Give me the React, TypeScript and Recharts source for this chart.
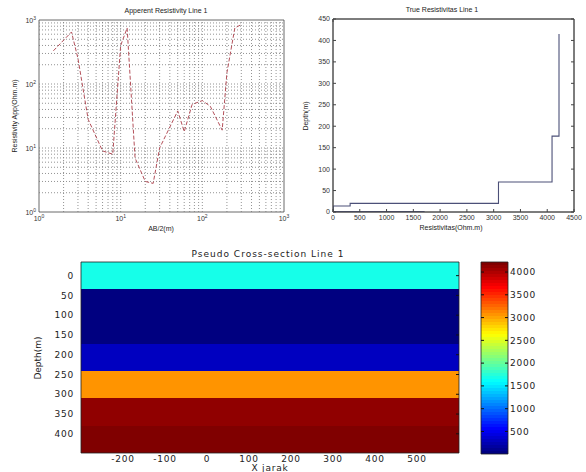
import React from "react";
import {
  LineChart,
  ComposedChart,
  Line,
  XAxis,
  YAxis,
  ReferenceLine,
  ReferenceArea,
} from "recharts";

// apparent resistivity sounding curve (AB/2 vs rho_a), log-log
const abHalf = [1.5, 2.5, 3, 4, 6, 8, 10, 12, 15, 20, 25, 30, 50, 60, 75, 100, 125, 175, 200, 250, 300];
const rhoApp = [330, 650, 250, 28, 9, 8, 400, 750, 7, 3, 2.8, 10, 38, 18, 48, 55, 45, 19, 150, 750, 850];

// layered model (true resistivity)
const layerRho = [1700, 5, 320, 3090, 4090, 4220];
const layerTop = [0, 1, 14, 20, 70, 177];
const layerBottom = [1, 14, 20, 70, 177, 415];

// pseudo cross-section rows
const rowDepth = [0, 69, 138, 207, 276, 345, 414];
const rowRho = [1700, 5, 5, 320, 3090, 4090, 4220];
const rowHalf = 34.5;
const sectionX = [-300, 600];

const decades = [1, 10, 100, 1000];
const rhoTicks = [0, 500, 1000, 1500, 2000, 2500, 3000, 3500, 4000, 4500];
const depthTicks = [0, 50, 100, 150, 200, 250, 300, 350, 400, 450];
const sectionXTicks = [-200, -100, 0, 100, 200, 300, 400, 500];
const sectionDepthTicks = [0, 50, 100, 150, 200, 250, 300, 350, 400];
const cbarTicks = [500, 1000, 1500, 2000, 2500, 3000, 3500, 4000];
const cMin = 5;
const cMax = 4220;

const apparentData = abHalf.map((ab, i) => ({ ab, rho: rhoApp[i] }));
const stepData = layerRho.flatMap((r, i) => [
  { rho: r, depth: layerTop[i] },
  { rho: r, depth: layerBottom[i] },
]);
const gridVals = [1, 10, 100].flatMap((d) =>
  [1, 2, 3, 4, 5, 6, 7, 8, 9].map((m) => m * d)
).filter((v) => v > 1);

// matlab jet
function jet(t: number) {
  const c = (v: number) => Math.round(255 * Math.max(0, Math.min(1, v)));
  const r = c(Math.min(4 * t - 1.5, -4 * t + 4.5));
  const g = c(Math.min(4 * t - 0.5, -4 * t + 3.5));
  const b = c(Math.min(4 * t + 0.5, -4 * t + 2.5));
  return `rgb(${r},${g},${b})`;
}
const colorOf = (v: number) => {
  const idx = Math.min(63, Math.floor(((v - cMin) / (cMax - cMin)) * 64));
  return jet(idx / 63);
};
const cbarSteps = Array.from({ length: 64 }, (_, i) => i);

const SANS = "'Liberation Sans', Arial, sans-serif";
const WIDE = "'DejaVu Sans', sans-serif";

const PowTickX = ({ x, y, payload }: any) => (
  <text x={x} y={y + 9} textAnchor="middle" fontSize={7} fill="#333" fontFamily={SANS}>
    10
    <tspan dy={-3} fontSize={5}>
      {Math.round(Math.log10(payload.value))}
    </tspan>
  </text>
);
const PowTickY = ({ x, y, payload }: any) => (
  <text x={x - 3} y={y + 3} textAnchor="end" fontSize={7} fill="#333" fontFamily={SANS}>
    10
    <tspan dy={-3} fontSize={5}>
      {Math.round(Math.log10(payload.value))}
    </tspan>
  </text>
);

const noLabel = () => <g />;

export default function App() {
  return (
    <div
      style={{
        position: "absolute",
        left: 0,
        top: 0,
        width: 586,
        height: 472,
        background: "#fff",
        overflow: "hidden",
      }}
    >
      {/* apparent resistivity */}
      <div style={{ position: "absolute", left: 0, top: 0 }}>
        <LineChart width={300} height={240} data={apparentData} margin={{ top: 20, right: 16, bottom: 8, left: 0 }}>
          <XAxis
            dataKey="ab"
            type="number"
            scale="log"
            domain={[1, 1000]}
            ticks={decades}
            allowDataOverflow
            height={20}
            tickSize={0}
            tickMargin={0}
            axisLine={false}
            tick={PowTickX}
            interval={0}
          />
          <YAxis
            type="number"
            scale="log"
            domain={[1, 1000]}
            ticks={decades}
            allowDataOverflow
            width={39}
            tickSize={0}
            tickMargin={0}
            axisLine={false}
            tick={PowTickY}
            interval={0}
          />
          {gridVals.map((v) => (
            <ReferenceLine key={"gx" + v} x={v} stroke="#777" strokeWidth={0.8} strokeDasharray="1 2" />
          ))}
          {gridVals.map((v) => (
            <ReferenceLine key={"gy" + v} y={v} stroke="#777" strokeWidth={0.8} strokeDasharray="1 2" />
          ))}
          <ReferenceArea x1={1} x2={1000} y1={1} y2={1000} fill="none" stroke="#444" strokeWidth={0.8} />
          <Line
            dataKey="rho"
            type="linear"
            stroke="#b4505a"
            strokeWidth={1}
            strokeDasharray="4 2"
            dot={false}
            isAnimationActive={false}
          />
        </LineChart>
      </div>

      {/* true resistivity */}
      <div style={{ position: "absolute", left: 290, top: 0 }}>
        <LineChart width={296} height={240} data={stepData} margin={{ top: 18, right: 11, bottom: 8, left: 0 }}>
          <XAxis
            dataKey="rho"
            type="number"
            domain={[0, 4500]}
            ticks={rhoTicks}
            allowDataOverflow
            interval={0}
            height={20}
            tickSize={-3}
            tickMargin={6}
            axisLine={{ stroke: "#444" }}
            tickLine={{ stroke: "#444" }}
            tick={{ fontSize: 7, fill: "#333", fontFamily: SANS }}
          />
          <XAxis
            xAxisId="top"
            orientation="top"
            type="number"
            domain={[0, 4500]}
            ticks={rhoTicks}
            allowDataOverflow
            interval={0}
            height={1}
            tickSize={-3}
            axisLine={{ stroke: "#444" }}
            tickLine={{ stroke: "#444" }}
            tick={noLabel}
          />
          <YAxis
            dataKey="depth"
            type="number"
            domain={[0, 450]}
            ticks={depthTicks}
            allowDataOverflow
            interval={0}
            width={43}
            tickSize={-3}
            tickMargin={6}
            axisLine={{ stroke: "#444" }}
            tickLine={{ stroke: "#444" }}
            tick={{ fontSize: 7, fill: "#333", fontFamily: SANS }}
          />
          <YAxis
            yAxisId="right"
            orientation="right"
            type="number"
            domain={[0, 450]}
            ticks={depthTicks}
            allowDataOverflow
            interval={0}
            width={1}
            tickSize={-3}
            axisLine={{ stroke: "#444" }}
            tickLine={{ stroke: "#444" }}
            tick={noLabel}
          />
          <ReferenceArea x1={0} x2={4500} y1={0} y2={450} fill="none" stroke="#444" strokeWidth={0.8} />
          <Line
            dataKey="depth"
            type="linear"
            stroke="#4c5078"
            strokeWidth={1.1}
            dot={false}
            isAnimationActive={false}
          />
        </LineChart>
      </div>

      {/* pseudo cross-section */}
      <div style={{ position: "absolute", left: 0, top: 240 }}>
        <ComposedChart width={586} height={232} margin={{ top: 21, right: 126, bottom: 0, left: 0 }}>
          <XAxis
            type="number"
            dataKey="x"
            domain={sectionX}
            ticks={sectionXTicks}
            allowDataOverflow
            interval={0}
            height={19}
            tickSize={0}
            tickMargin={3}
            axisLine={false}
            tick={{ fontSize: 9, fill: "#222", fontFamily: WIDE, letterSpacing: 0.8 }}
          />
          <XAxis
            xAxisId="top"
            orientation="top"
            type="number"
            domain={sectionX}
            ticks={sectionXTicks}
            allowDataOverflow
            interval={0}
            height={1}
            tickSize={-3}
            axisLine={false}
            tickLine={{ stroke: "#111" }}
            tick={noLabel}
          />
          <YAxis
            type="number"
            domain={[rowDepth[0] - rowHalf, rowDepth[rowDepth.length - 1] + rowHalf]}
            reversed
            ticks={sectionDepthTicks}
            allowDataOverflow
            interval={0}
            width={81}
            tickSize={0}
            tickMargin={7}
            axisLine={false}
            tick={{ fontSize: 9, fill: "#222", fontFamily: WIDE, letterSpacing: 0.8 }}
          />
          <YAxis
            yAxisId="right"
            orientation="right"
            type="number"
            domain={[rowDepth[0] - rowHalf, rowDepth[rowDepth.length - 1] + rowHalf]}
            reversed
            ticks={sectionDepthTicks}
            allowDataOverflow
            interval={0}
            width={1}
            tickSize={-3}
            axisLine={false}
            tickLine={{ stroke: "#111" }}
            tick={noLabel}
          />
          {rowDepth.map((d, i) => (
            <ReferenceArea
              key={"row" + i}
              x1={sectionX[0]}
              x2={sectionX[1]}
              y1={d - rowHalf}
              y2={d + rowHalf}
              fill={colorOf(rowRho[i])}
              fillOpacity={1}
              stroke="none"
              shapeRendering="crispEdges"
            />
          ))}
          <ReferenceArea
            x1={sectionX[0]}
            x2={sectionX[1]}
            y1={rowDepth[0] - rowHalf}
            y2={rowDepth[rowDepth.length - 1] + rowHalf}
            fill="none"
            stroke="#222"
            strokeWidth={0.8}
          />
        </ComposedChart>
      </div>

      {/* colorbar */}
      <div style={{ position: "absolute", left: 470, top: 240 }}>
        <ComposedChart width={116} height={232} margin={{ top: 22, right: 18, bottom: 18, left: 10 }}>
          <XAxis type="number" dataKey="x" domain={[0, 1]} allowDataOverflow height={0} tick={false} axisLine={false} tickLine={false} />
          <YAxis
            orientation="right"
            type="number"
            domain={[cMin, cMax]}
            ticks={cbarTicks}
            allowDataOverflow
            interval={0}
            width={60}
            tickSize={-3}
            tickMargin={5}
            axisLine={false}
            tickLine={{ stroke: "#111" }}
            tick={{ fontSize: 9, fill: "#222", fontFamily: WIDE, letterSpacing: 0.8 }}
          />
          <YAxis
            yAxisId="left"
            orientation="left"
            type="number"
            domain={[cMin, cMax]}
            ticks={cbarTicks}
            allowDataOverflow
            interval={0}
            width={1}
            tickSize={-3}
            axisLine={false}
            tickLine={{ stroke: "#111" }}
            tick={noLabel}
          />
          {cbarSteps.map((i) => (
            <ReferenceArea
              key={"cb" + i}
              x1={0}
              x2={1}
              y1={cMin + (i * (cMax - cMin)) / 64}
              y2={cMin + ((i + 1) * (cMax - cMin)) / 64}
              fill={jet(i / 63)}
              fillOpacity={1}
              stroke="none"
              shapeRendering="crispEdges"
            />
          ))}
          <ReferenceArea x1={0} x2={1} y1={cMin} y2={cMax} fill="none" stroke="#222" strokeWidth={0.8} />
        </ComposedChart>
      </div>

      {/* titles and axis labels */}
      <svg width={586} height={472} style={{ position: "absolute", left: 0, top: 0, pointerEvents: "none" }}>
        <text x={166} y={13} textAnchor="middle" fontSize={7} fill="#222" fontFamily={SANS}>
          Apperent Resistivity Line 1
        </text>
        <text x={161} y={231} textAnchor="middle" fontSize={7} fill="#222" fontFamily={SANS}>
          AB/2(m)
        </text>
        <text
          x={17}
          y={116}
          textAnchor="middle"
          fontSize={7}
          fill="#222"
          fontFamily={SANS}
          transform="rotate(-90 17 116)"
        >
          Resistivity App(Ohm.m)
        </text>
        <text x={442} y={12} textAnchor="middle" fontSize={7} fill="#222" fontFamily={SANS}>
          True Resistivitas Line 1
        </text>
        <text x={451} y={230} textAnchor="middle" fontSize={7} fill="#222" fontFamily={SANS}>
          Resistivitas(Ohm.m)
        </text>
        <text
          x={308}
          y={116}
          textAnchor="middle"
          fontSize={7}
          fill="#222"
          fontFamily={SANS}
          transform="rotate(-90 308 116)"
        >
          Depth(m)
        </text>
        <text x={268} y={257} textAnchor="middle" fontSize={9} fill="#222" fontFamily={WIDE} letterSpacing={1}>
          Pseudo Cross-section Line 1
        </text>
        <text x={270} y={471} textAnchor="middle" fontSize={9} fill="#222" fontFamily={WIDE} letterSpacing={0.8}>
          X jarak
        </text>
        <text
          x={41}
          y={358}
          textAnchor="middle"
          fontSize={9}
          fill="#222"
          fontFamily={WIDE}
          transform="rotate(-90 41 358)"
        >
          Depth(m)
        </text>
      </svg>
    </div>
  );
}
